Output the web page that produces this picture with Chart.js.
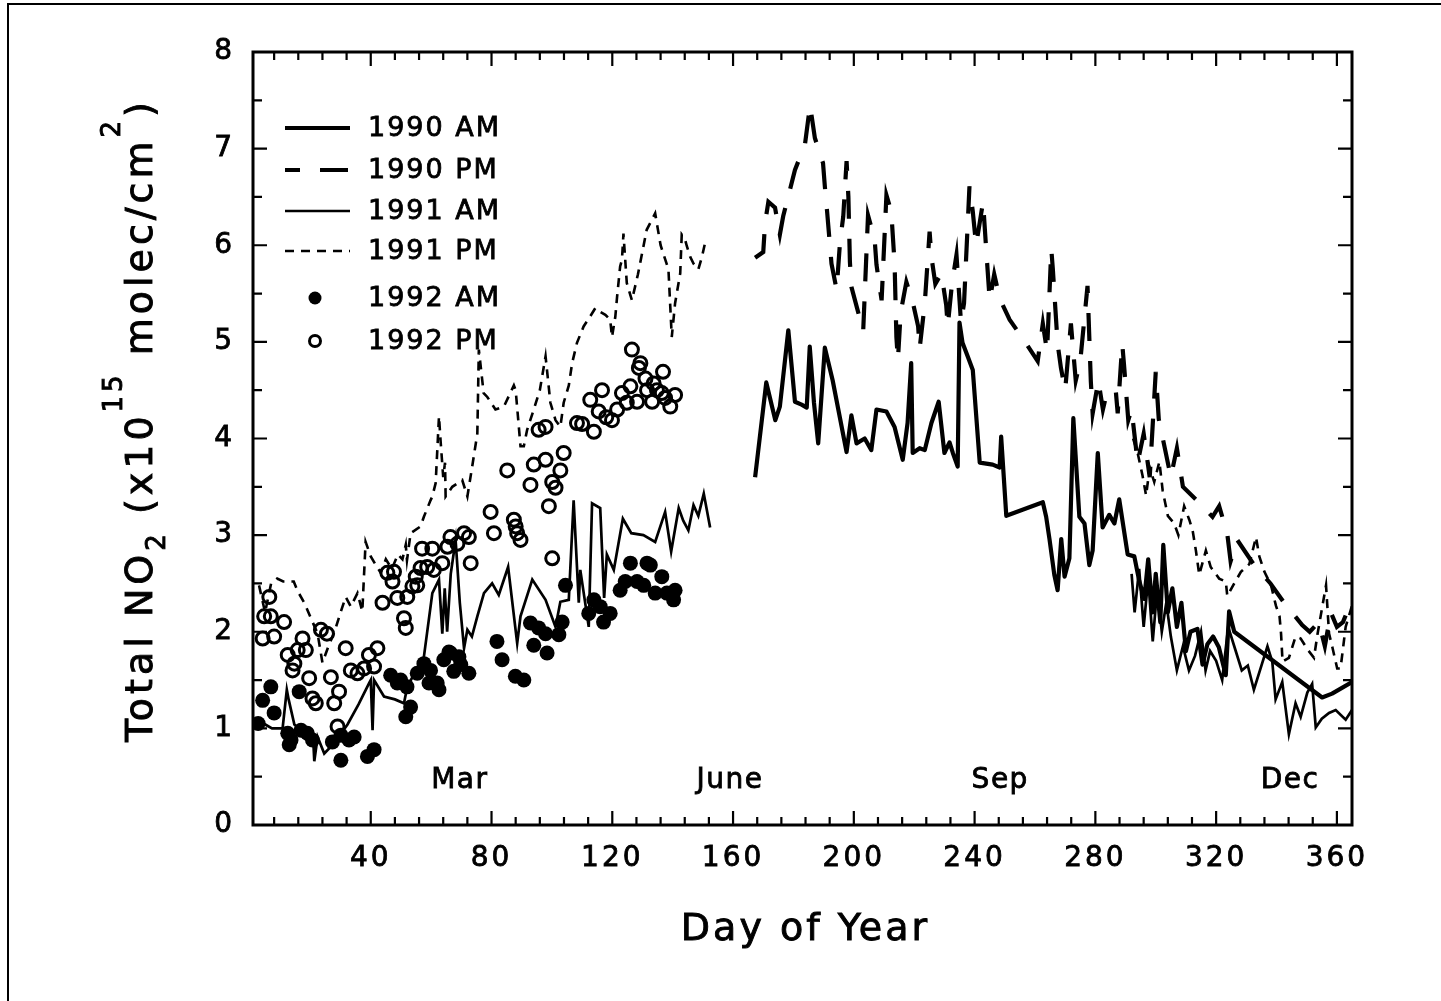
<!DOCTYPE html>
<html>
<head>
<meta charset="utf-8">
<script src="https://cdn.jsdelivr.net/npm/chart.js@4.4.1/dist/chart.umd.min.js"></script>
<style>
  html,body{margin:0;background:#fff}
  #wrap{width:1441px;height:1001px;position:relative}
</style>
</head>
<body>
<div id="wrap"><canvas id="c"></canvas></div>
<script>
/* ---- axes / labels ---- */
const xTicks = [40,80,120,160,200,240,280,320,360];
const yTicks = [0,1,2,3,4,5,6,7,8];
const monthNames = ['Mar','June','Sep','Dec'];
const monthDays  = [69.5,159,248.5,344.5];
const seriesNames = ['1990 AM','1990 PM','1991 AM','1991 PM','1992 AM','1992 PM'];

/* ---- 1990 AM (thick solid) ---- */
const day90am = [
  167.3,171,174,175.5,178.3,180.5,182.7,184.4,185.4,186.8,
  188.2,190.4,193,197.6,199.2,200.9,203.6,205.8,207.5,210.8,
  213.5,216.2,217.8,219,219.5,221.8,223.5,225.7,228.1,230,
  231.7,232.8,234.4,235,236,237.7,239.4,241.7,246,248.3,
  248.8,250.5,262.6,263.7,264.8,266.4,267.5,268.7,269.8,271.4,
  272.7,274.7,276.4,278,279.1,280.8,282.4,284.6,286.3,287.9,
  290.7,292.9,294.5,296.2,297.5,299,300,301.5,302.5,304,
  305.5,307,308.5,310,311.5,313.8,315.5,317.1,319,320.9,
  323.2,324.3,326,355.1,358.4,365];
const no2_90am = [
  3.6,4.58,4.19,4.33,5.12,4.38,4.35,4.32,4.95,4.37,
  3.95,4.94,4.6,3.86,4.24,3.95,4.0,3.88,4.3,4.28,
  4.12,3.78,4.16,4.78,3.85,3.9,3.88,4.16,4.38,3.85,
  3.96,3.85,3.71,5.2,4.99,4.85,4.71,3.75,3.73,3.7,
  4.02,3.2,3.34,3.19,2.96,2.59,2.43,2.96,2.57,2.76,
  4.21,3.19,3.12,2.69,2.84,3.85,3.08,3.21,3.12,3.37,
  2.8,2.78,2.53,2.34,2.75,2.2,2.6,2.1,2.9,2.2,
  2.45,2.05,2.3,1.8,2.0,2.03,1.66,1.87,1.95,1.84,
  1.55,2.21,2.0,1.32,1.36,1.48];

/* ---- 1990 PM (thick long dash) ---- */
const day90pm = [
  167.3,170,170.6,171.7,173.9,175.5,176.6,178.8,180.5,183.8,
  185.5,187.1,189.8,190.4,191.2,192.6,194.3,195.4,196.5,197.6,
  198.2,198.7,199.2,200.9,203.1,204.7,206.9,207.5,209.2,210.8,
  212.4,213.5,214.1,214.6,215.5,217.4,219.6,221.3,221.8,223.5,
  225.1,225.7,227,229,230.6,231.1,232.5,234,235.5,236.5,
  238.3,239.4,240.5,242.8,243.9,245,246.5,248.3,251.6,256.5,
  260.9,262.6,264,265.4,265.9,267.5,268.6,270,271.9,273.5,
  275,277.4,278.5,279.1,281,282.5,284,286.8,287.4,288.9,
  289.5,290.9,292,294,296,298,300,301,303,305,
  307,309,313.3,318.8,321,323.7,324.8,327,332.6,338,
  342.5,348.5,351,354,356,358,360,362,365];
const no2_90pm = [
  5.87,5.93,6.23,6.45,6.39,6.11,6.30,6.57,6.78,7.04,
  7.45,7.11,6.85,6.61,6.33,5.81,5.54,6.02,6.3,6.87,
  6.50,5.83,5.57,5.37,5.11,6.31,6.06,5.8,5.43,6.52,
  6.35,5.81,5.05,4.81,5.3,5.62,5.40,5.16,4.93,5.4,
  6.14,5.88,5.6,5.71,5.38,5.16,5.6,5.9,5.2,5.4,
  6.61,6.35,6.0,6.45,5.93,5.43,5.7,5.45,5.23,5.01,
  4.80,5.19,4.9,5.96,5.76,4.98,4.73,4.5,5.19,4.6,
  4.8,5.58,4.59,4.26,4.6,4.3,4.5,4.48,4.26,4.98,
  4.76,4.19,4.3,3.75,4.05,3.6,4.69,4.2,3.9,3.6,
  3.9,3.5,3.37,3.19,3.3,3.01,2.73,2.95,2.69,2.5,
  2.30,2.07,2.0,2.1,1.85,2.2,2.05,2.1,2.33];

/* ---- 1991 AM (thin solid), gap in summer ---- */
const day91am = [
  2.7,4.5,7.3,10.8,12.2,12.8,14.7,17,19.5,21,
  21.3,22.4,24.6,26.8,29.5,32.3,36,39.5,40,40.6,
  41.1,44.4,48,51,52.1,55,57.6,60.4,62.6,63.7,
  64.5,65.3,66.5,68.1,69.5,70.9,72,73.5,75.3,77.5,
  80.2,82.4,85.5,88.5,89.6,93.5,97.9,101.2,102.8,105.6,
  107.2,108.9,109.4,112.2,113.3,116,117.3,118.2,120.5,123.5,
  126.3,130.3,134.2,137.5,139.5,142,143.5,145.2,146.9,148.5,
  150.3,152.4,
  220,
  292,293,294.5,296,297.5,299,300.5,302,303.5,305,
  307,309,311,313,315,316.5,318,320,322,324,
  326,328.5,330.5,332.5,335,337,338.6,339.7,341.9,344.1,
  346.3,348,350.2,351.8,353,355,357.4,359.6,362.9,365];
const no2_91am = [
  1.1,1.05,1.0,1.0,1.40,1.3,1.04,0.98,0.93,0.85,
  0.66,0.91,0.74,0.81,0.92,1.04,1.25,1.47,1.5,0.98,
  1.5,1.33,1.30,1.26,1.43,1.6,1.74,2.40,2.54,1.98,
  2.45,2.0,2.6,2.95,2.3,1.83,2.02,1.95,2.16,2.40,
  2.50,2.38,2.67,1.88,2.16,2.54,2.33,2.05,2.31,2.33,
  3.36,2.30,2.64,2.05,3.33,3.28,2.35,2.80,2.64,3.17,
  3.02,3.0,2.93,3.24,2.83,3.28,3.15,3.05,3.31,3.2,
  3.43,3.08,
  null,
  2.6,2.2,2.65,2.05,2.55,1.9,2.45,2.0,2.3,1.95,
  1.6,1.85,1.6,1.75,2.0,1.6,1.8,1.7,1.5,2.05,
  1.85,1.6,1.65,1.4,1.65,1.85,1.69,1.3,1.48,0.94,
  1.26,1.12,1.37,1.46,1.01,1.1,1.16,1.19,1.09,1.19];

/* ---- 1991 PM (thin short dash), gap in summer ---- */
const day91pm = [
  3,5,7,9,11,14.5,15.8,18,20.2,22.4,
  24,26,28,30,31.7,33.4,35.6,37.2,38.3,40,
  41.5,43.3,45,47,49,50.5,51.6,52,53.2,56.5,
  57.6,59.8,60.4,61.5,62.6,63.1,64,64.6,64.8,67,
  70.3,72,73.6,75.3,75.8,77.4,78.6,81.3,84.1,87.4,
  88,89.6,90.7,91.8,94,96,97.9,99.5,101.2,102.8,
  103.9,105.6,106.7,108.3,110.5,112.2,114.4,116,117.7,119.3,
  119.9,121,121.6,122.6,123.2,123.7,124.8,126.5,128.5,131.4,
  134.2,136,138.6,139.7,140.8,142.5,143,144.1,144.7,145.8,
  146.9,148.5,149.7,150.7,
  220,
  292.5,294,295.6,296.8,298,299.5,301.2,302.3,304,306.1,
  307.5,309.4,311.1,312.2,313.3,314.4,316.6,318.2,321,323.2,
  323.7,326,328.2,331,333.2,334.3,336,338.2,339.8,341,
  341.5,342,344.1,346.3,348,350.2,352.4,353.6,356.4,357.4,
  358.5,360.1,361.2,362.9,365];
const no2_91pm = [
  2.48,2.2,2.5,2.55,2.52,2.52,2.42,2.30,2.14,1.98,
  1.68,1.85,2.0,2.2,2.36,2.26,2.40,2.21,2.93,2.78,
  2.7,2.61,2.75,2.65,2.8,2.75,2.90,2.74,3.02,3.09,
  3.19,3.36,3.40,3.54,4.23,3.99,3.6,3.75,3.40,3.5,
  3.57,3.40,3.71,4.05,4.92,4.47,4.43,4.30,4.33,4.55,
  4.5,3.92,3.92,4.09,4.30,4.5,4.85,4.37,4.19,4.12,
  4.37,4.55,4.78,4.99,5.16,5.24,5.35,5.31,5.28,5.23,
  5.05,5.26,5.47,5.78,5.85,6.12,5.61,5.43,5.7,6.16,
  6.33,6.0,5.75,5.05,5.40,5.71,6.11,6.06,5.99,5.88,
  5.81,5.75,5.88,6.02,
  null,
  4.0,3.85,3.62,3.41,3.7,3.55,3.76,3.46,3.2,3.12,
  3.0,3.30,3.16,3.05,2.84,2.59,2.84,2.67,2.55,2.52,
  2.37,2.5,2.62,2.7,2.98,2.78,2.62,2.48,2.27,2.16,
  1.98,1.69,1.73,1.95,1.93,1.82,1.73,1.98,2.48,1.98,
  1.84,1.62,1.62,2.05,2.27];

/* ---- 1992 AM (filled dots) ---- */
const day92am = [
  2.7,4.2,6.9,8,12.5,13,13.6,16.3,16.9,19,
  20.7,27.3,30.1,30.1,32.8,34.5,38.9,41.1,46.6,48.8,
  49.9,52,51.6,53.2,55.4,57.6,59.8,59.3,62,62.6,
  64.2,65.9,66.4,67.5,69.2,69.8,72.5,81.8,83.5,87.9,
  90.7,92.9,95.6,97.9,94,98.4,102.3,103.4,104.5,112.2,
  113.9,116,117.1,119.3,122.6,124.3,126,128.2,130.4,131.5,
  132.6,134.2,136.4,138.1,140.3,140.8];
const no2_92am = [
  1.05,1.29,1.43,1.16,0.95,0.83,0.88,1.38,0.98,0.95,
  0.88,0.86,0.93,0.67,0.88,0.91,0.71,0.78,1.55,1.47,
  1.50,1.43,1.12,1.22,1.57,1.67,1.60,1.47,1.47,1.40,
  1.71,1.79,1.78,1.59,1.74,1.66,1.57,1.90,1.71,1.54,
  1.50,2.09,2.04,1.98,1.86,1.78,1.97,2.10,2.48,2.19,
  2.33,2.26,2.10,2.19,2.43,2.52,2.71,2.52,2.48,2.71,
  2.69,2.40,2.57,2.40,2.33,2.43];

/* ---- 1992 PM (open circles) ---- */
const day92pm = [
  4.2,4.7,6.4,6.9,8,11.3,12.5,14.1,14.7,15.8,
  17.4,18.5,19.6,20.7,21.8,23.5,25.5,26.8,27.9,29,
  29.5,31.7,33.4,35.6,37.8,39.4,41.1,42.2,43.9,45.5,
  47.2,47.7,48.8,51,51.6,52.1,53.8,54.9,55.4,56.5,
  57,58.7,60.4,60.9,63.7,65.4,66.4,68.7,70.9,72.5,
  73.1,79.7,80.8,85.2,87.4,88,88.5,89.6,92.9,94,
  95.6,97.9,97.9,99,100.1,100.1,101.2,102.8,103.9,108.3,
  110,112.7,113.9,115.5,116.6,118,119.9,121.6,123.2,124.8,
  126,126.5,128.2,128.8,129.3,131,131.5,133.2,133.7,134.8,
  136.4,136.8,137.5,139.2,140.8];
const no2_92pm = [
  1.93,2.16,2.36,2.16,1.95,2.10,1.76,1.60,1.67,1.81,
  1.93,1.81,1.52,1.31,1.26,2.02,1.98,1.53,1.26,1.02,
  1.38,1.83,1.60,1.57,1.62,1.76,1.64,1.83,2.30,2.61,
  2.52,2.62,2.35,2.14,2.04,2.36,2.47,2.57,2.48,2.66,
  2.86,2.67,2.86,2.64,2.71,2.88,2.98,2.91,3.02,2.98,
  2.71,3.24,3.02,3.67,3.16,3.09,3.02,2.95,3.52,3.73,
  4.09,4.12,3.78,3.30,3.55,2.76,3.49,3.67,3.85,4.16,
  4.15,4.40,4.07,4.28,4.50,4.22,4.19,4.30,4.47,4.37,
  4.54,4.92,4.38,4.73,4.78,4.62,4.50,4.38,4.57,4.50,
  4.47,4.69,4.42,4.33,4.45];

/* ---- helpers ---- */
const FONT = 'DejaVu Sans';
const pts = (d,v) => d.map((x,i) => ({x, y: v[i]}));

/* white page + scan border */
const page = {
  id:'page',
  beforeDraw(chart){
    const c = chart.ctx;
    c.save();
    c.fillStyle='#fff'; c.fillRect(0,0,chart.width,chart.height);
    c.strokeStyle='#000'; c.lineWidth=2;
    c.beginPath(); c.moveTo(8,1001); c.lineTo(8,4); c.lineTo(1441,4); c.stroke();
    c.restore();
    c.letterSpacing='3px';      // for the tick labels
  }
};

/* frame with inward ticks on all four sides */
const frame = {
  id:'frame',
  afterDatasetsDraw(chart){
    const {ctx:c, chartArea:a, scales:{x,y}} = chart;
    c.save();
    c.strokeStyle='#000';
    c.lineWidth=2.2;
    c.beginPath();
    for(let d=8; d<=364; d+=8){
      const px = x.getPixelForValue(d), L = d%40===0 ? 14 : 8;
      c.moveTo(px,a.bottom); c.lineTo(px,a.bottom-L);
      c.moveTo(px,a.top);    c.lineTo(px,a.top+L);
    }
    for(let v=0.5; v<8; v+=0.5){
      const py = y.getPixelForValue(v), L = v%1===0 ? 14 : 9;
      c.moveTo(a.left,py);  c.lineTo(a.left+L,py);
      c.moveTo(a.right,py); c.lineTo(a.right-L,py);
    }
    c.stroke();
    c.lineWidth=3;
    c.strokeRect(a.left,a.top,a.right-a.left,a.bottom-a.top);
    c.restore();
  }
};

/* text drawn a touch heavier, like the scanned original */
function ink(c,t,x,y,w){ c.fillText(t,x,y); c.lineWidth=w; c.strokeText(t,x,y); }

/* legend, month names, titles */
const notes = {
  id:'notes',
  afterDraw(chart){
    const {ctx:c, chartArea:a, scales:{x,y}} = chart;
    c.save();
    c.fillStyle='#000'; c.strokeStyle='#000';

    // legend
    const rows=[128,170,211,251,298,341];
    c.textBaseline='middle'; c.textAlign='left';
    chart.data.datasets.forEach((ds,i)=>{
      const ry=rows[i];
      if(ds.showLine){
        c.lineWidth=ds.borderWidth;
        c.setLineDash(ds.borderDash||[]);
        c.lineDashOffset = i===1 ? 13 : 0;
        c.beginPath(); c.moveTo(285,ry); c.lineTo(350,ry); c.stroke();
        c.setLineDash([]);
      } else {
        c.beginPath(); c.arc(315,ry,ds.pointRadius-1,0,Math.PI*2);
        if(i===4){ c.fill(); } else { c.lineWidth=ds.pointBorderWidth; c.stroke(); }
      }
      c.font=`27px "${FONT}"`; c.letterSpacing='2px';
      ink(c,ds.label,368,ry+1,0.8);
    });

    // month names
    c.font=`28px "${FONT}"`; c.letterSpacing='1.5px'; c.textAlign='center';
    monthNames.forEach((m,i)=>ink(c,m, x.getPixelForValue(monthDays[i]), y.getPixelForValue(0.46),0.8));

    // x title
    c.font=`38px "${FONT}"`; c.letterSpacing='3px';
    ink(c,'Day of Year',(a.left+a.right)/2+3,930,0.9);

    // y title with sub/superscripts
    const parts=[['Total NO',38,0],['2',26,13],[' (x10',38,0],['15',26,-30],[' molec/cm',38,0],['2',26,-32],[')',38,0]];
    c.letterSpacing='4px'; c.textAlign='left'; c.textBaseline='alphabetic';
    let total=0;
    parts.forEach(p=>{ c.font=`${p[1]}px "${FONT}"`; total+=c.measureText(p[0]).width; });
    c.translate(152,420); c.rotate(-Math.PI/2);
    let u=-total/2;
    parts.forEach(p=>{ c.font=`${p[1]}px "${FONT}"`; ink(c,p[0],u,p[2],0.9); u+=c.measureText(p[0]).width; });
    c.restore();
  }
};

new Chart(document.getElementById('c'), {
  type:'scatter',
  data:{datasets:[
    {label:seriesNames[0], data:pts(day90am,no2_90am), showLine:true, borderColor:'#000', borderWidth:4.2, pointRadius:0, borderJoinStyle:'round'},
    {label:seriesNames[1], data:pts(day90pm,no2_90pm), showLine:true, borderColor:'#000', borderWidth:4.2, pointRadius:0, borderDash:[28,20]},
    {label:seriesNames[2], data:pts(day91am,no2_91am), showLine:true, borderColor:'#000', borderWidth:2.7, pointRadius:0},
    {label:seriesNames[3], data:pts(day91pm,no2_91pm), showLine:true, borderColor:'#000', borderWidth:2.6, pointRadius:0, borderDash:[9,7]},
    {label:seriesNames[4], data:pts(day92am,no2_92am), showLine:false, pointRadius:7.5,
      pointBackgroundColor:'#000', pointBorderColor:'#000', pointBorderWidth:0},
    {label:seriesNames[5], data:pts(day92pm,no2_92pm), showLine:false, pointRadius:6.5,
      pointBackgroundColor:'rgba(0,0,0,0)', pointBorderColor:'#000', pointBorderWidth:3}
  ]},
  options:{
    animation:false, responsive:true, maintainAspectRatio:false,
    layout:{padding:{left:0,top:52,right:89,bottom:0}},
    plugins:{legend:{display:false}, tooltip:{enabled:false}},
    scales:{
      x:{type:'linear', min:1, max:365,
        afterBuildTicks:s=>{ s.ticks = xTicks.map(v=>({value:v})); },
        afterFit:s=>{ s.height=176; },
        grid:{display:false, drawTicks:false}, border:{display:false},
        ticks:{font:{family:FONT,size:28}, color:'#000', padding:17, maxRotation:0, autoSkip:false,
               textStrokeColor:'#000', textStrokeWidth:0.8}
      },
      y:{type:'linear', min:0, max:8,
        afterBuildTicks:s=>{ s.ticks = yTicks.map(v=>({value:v})); },
        afterFit:s=>{ s.width=253; },
        grid:{display:false, drawTicks:false}, border:{display:false},
        ticks:{font:{family:FONT,size:28}, color:'#000', padding:18,
               textStrokeColor:'#000', textStrokeWidth:0.8}
      }
    }
  },
  plugins:[page, frame, notes]
});
</script>
</body>
</html>
